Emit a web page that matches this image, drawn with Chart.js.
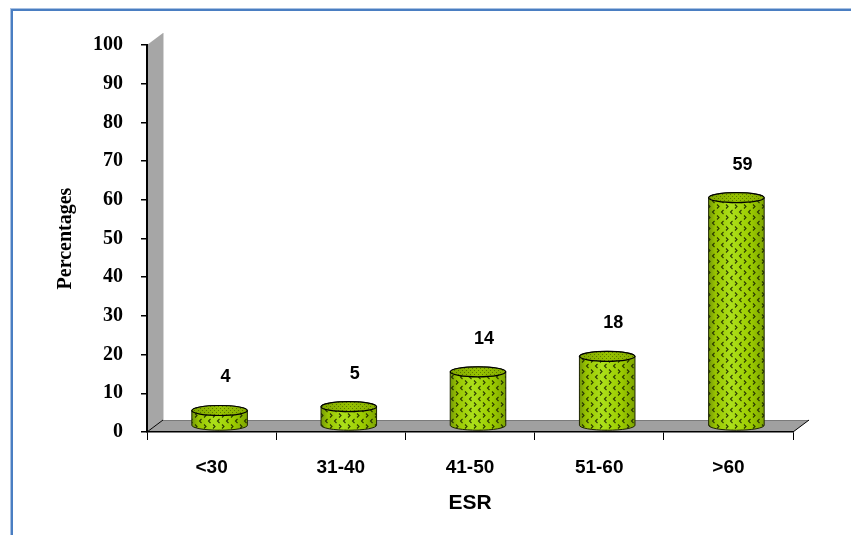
<!DOCTYPE html>
<html>
<head>
<meta charset="utf-8">
<script src="https://cdn.jsdelivr.net/npm/chart.js@4/dist/chart.umd.min.js"></script>
<style>
  html, body { margin: 0; padding: 0; background: #ffffff; }
  #wrap { position: relative; width: 851px; height: 535px; }
  canvas { display: block; }
</style>
</head>
<body>
<div id="wrap"><canvas id="chart" width="851" height="535"></canvas></div>
<script>
// ESR groups and the share of patients in each (percent)
const categories = ['<30', '31-40', '41-50', '51-60', '>60'];
const percentages = [4, 5, 14, 18, 59];
const yMin = 0;
const yMax = 100;
const yStep = 10;

// 3-D look: depth of the floor/wall and of the cylinders
const DEPTH_X = 16;
const DEPTH_Y = 12;
const ELLIPSE_RY = 5;

function chevronPattern(ctx) {
  const tile = document.createElement('canvas');
  tile.width = 9; tile.height = 11;
  const t = tile.getContext('2d');
  t.strokeStyle = 'rgba(20,30,0,0.85)';
  t.lineWidth = 1.1;
  t.beginPath();
  t.moveTo(3.5, 1); t.lineTo(1.5, 3); t.lineTo(3.5, 5);
  t.moveTo(6, 6.5); t.lineTo(8, 8.5); t.lineTo(6, 10.5);
  t.stroke();
  return ctx.createPattern(tile, 'repeat');
}

function dotPattern(ctx) {
  const tile = document.createElement('canvas');
  tile.width = 4; tile.height = 4;
  const t = tile.getContext('2d');
  t.fillStyle = 'rgba(40,55,0,0.5)';
  t.fillRect(0, 0, 1, 1);
  t.fillRect(2, 2, 1, 1);
  return ctx.createPattern(tile, 'repeat');
}

// frame, back wall and floor (drawn under the axes)
const backdrop = {
  id: 'backdrop',
  beforeDraw(chart) {
    const ctx = chart.ctx;
    const a = chart.chartArea;
    const xs = chart.scales.x;
    ctx.save();
    // blue frame
    ctx.fillStyle = '#a9c1e2';
    ctx.fillRect(10, 8, 841, 1);
    ctx.fillRect(10, 8, 1, 527);
    ctx.fillStyle = '#4a7ec2';
    ctx.fillRect(11, 9, 840, 2);
    ctx.fillRect(11, 9, 2, 526);

    // back wall
    ctx.beginPath();
    ctx.moveTo(a.left, a.top);
    ctx.lineTo(a.left + DEPTH_X, a.top - DEPTH_Y);
    ctx.lineTo(a.left + DEPTH_X, a.bottom - DEPTH_Y);
    ctx.lineTo(a.left, a.bottom);
    ctx.closePath();
    ctx.fillStyle = '#a6a6a6';
    ctx.fill();
    ctx.strokeStyle = '#d4d4d4';
    ctx.lineWidth = 1;
    ctx.beginPath();
    ctx.moveTo(a.left + DEPTH_X + 0.5, a.top - DEPTH_Y);
    ctx.lineTo(a.left + DEPTH_X + 0.5, a.bottom - DEPTH_Y);
    ctx.stroke();

    // floor
    const right = xs.right;
    ctx.beginPath();
    ctx.moveTo(a.left, a.bottom);
    ctx.lineTo(a.left + DEPTH_X, a.bottom - DEPTH_Y);
    ctx.lineTo(right + DEPTH_X, a.bottom - DEPTH_Y);
    ctx.lineTo(right, a.bottom);
    ctx.closePath();
    ctx.fillStyle = '#a0a0a0';
    ctx.fill();
    ctx.strokeStyle = '#7a7a7a';
    ctx.beginPath();
    ctx.moveTo(a.left + DEPTH_X, a.bottom - DEPTH_Y + 0.5);
    ctx.lineTo(right + DEPTH_X, a.bottom - DEPTH_Y + 0.5);
    ctx.stroke();
    ctx.strokeStyle = '#000000';
    ctx.beginPath();
    ctx.moveTo(right, a.bottom);
    ctx.lineTo(right + DEPTH_X, a.bottom - DEPTH_Y);
    ctx.moveTo(a.left, a.bottom);
    ctx.lineTo(a.left + DEPTH_X, a.bottom - DEPTH_Y);
    ctx.stroke();
    ctx.restore();
  }
};

// cylinders and value labels, placed from each bar element
const cylinders = {
  id: 'cylinders',
  afterDatasetsDraw(chart) {
    const ctx = chart.ctx;
    const meta = chart.getDatasetMeta(0);
    const ds = chart.data.datasets[0];
    const bodyTex = chevronPattern(ctx);
    const topTex = dotPattern(ctx);
    ctx.save();
    meta.data.forEach((el, i) => {
      const p = el.getProps(['x', 'y', 'base', 'width'], true);
      const cx = p.x + DEPTH_X / 2;
      const rx = p.width / 2;
      const topY = p.y - DEPTH_Y / 2;
      const botY = p.base - DEPTH_Y / 2;

      // body
      const body = new Path2D();
      body.moveTo(cx - rx, topY);
      body.lineTo(cx - rx, botY);
      body.ellipse(cx, botY, rx, ELLIPSE_RY, 0, Math.PI, 0, true);
      body.lineTo(cx + rx, topY);
      body.ellipse(cx, topY, rx, ELLIPSE_RY, 0, 0, Math.PI, true);
      body.closePath();
      const g = ctx.createLinearGradient(cx - rx, 0, cx + rx, 0);
      g.addColorStop(0, '#74980a');
      g.addColorStop(0.12, '#98c400');
      g.addColorStop(0.4, '#ace01a');
      g.addColorStop(0.75, '#9ccc00');
      g.addColorStop(1, '#7ea600');
      ctx.fillStyle = g;
      ctx.fill(body);
      ctx.fillStyle = bodyTex;
      ctx.fill(body);
      ctx.strokeStyle = '#1e2600';
      ctx.lineWidth = 1;
      ctx.stroke(body);

      // lid
      const lid = new Path2D();
      lid.ellipse(cx, topY, rx, ELLIPSE_RY, 0, 0, Math.PI * 2);
      const lg = ctx.createLinearGradient(cx - rx, 0, cx + rx, 0);
      lg.addColorStop(0, '#80a600');
      lg.addColorStop(0.5, '#96c200');
      lg.addColorStop(1, '#86ad00');
      ctx.fillStyle = lg;
      ctx.fill(lid);
      ctx.fillStyle = topTex;
      ctx.fill(lid);
      ctx.strokeStyle = '#000000';
      ctx.lineWidth = 1.2;
      ctx.stroke(lid);

      // value label
      ctx.fillStyle = '#000000';
      ctx.font = 'bold 18px "Liberation Sans", Arial, sans-serif';
      ctx.textAlign = 'center';
      ctx.textBaseline = 'middle';
      ctx.fillText(String(ds.data[i]), cx + 6, topY - 33);
    });
    ctx.restore();
  }
};

new Chart(document.getElementById('chart'), {
  type: 'bar',
  data: {
    labels: categories,
    datasets: [{
      data: percentages,
      backgroundColor: 'rgba(0,0,0,0)',
      borderWidth: 0,
      categoryPercentage: 1,
      barPercentage: 0.43
    }]
  },
  options: {
    responsive: false,
    animation: false,
    events: [],
    layout: { padding: { left: 40, top: 45, right: 58, bottom: 0 } },
    plugins: { legend: { display: false }, tooltip: { enabled: false } },
    scales: {
      x: {
        offset: true,
        afterFit(scale) { scale.height = 103; },
        grid: { offset: true, drawOnChartArea: false, drawTicks: true, tickLength: 8, color: '#000000', lineWidth: 1 },
        border: { display: true, color: '#000000', width: 1.5 },
        ticks: {
          color: '#000000',
          padding: 16,
          font: { family: '"Liberation Sans", Arial, sans-serif', size: 19, weight: 'bold' }
        },
        title: {
          display: true,
          text: 'ESR',
          color: '#000000',
          padding: { top: 0, bottom: 19 },
          font: { family: '"Liberation Sans", Arial, sans-serif', size: 21, weight: 'bold' }
        }
      },
      y: {
        min: yMin,
        max: yMax,
        afterFit(scale) { scale.width = 107; },
        grid: { drawOnChartArea: false, drawTicks: true, tickLength: 6, color: '#000000', lineWidth: 1.5 },
        border: { display: true, color: '#000000', width: 2 },
        ticks: {
          stepSize: yStep,
          color: '#000000',
          padding: 18,
          font: { family: '"Liberation Serif", "Times New Roman", serif', size: 20, weight: 'bold' }
        },
        title: {
          display: true,
          text: 'Percentages',
          color: '#000000',
          padding: { top: 14, bottom: 0 },
          font: { family: '"Liberation Serif", "Times New Roman", serif', size: 20, weight: 'bold' }
        }
      }
    }
  },
  plugins: [backdrop, cylinders]
});
</script>
</body>
</html>
